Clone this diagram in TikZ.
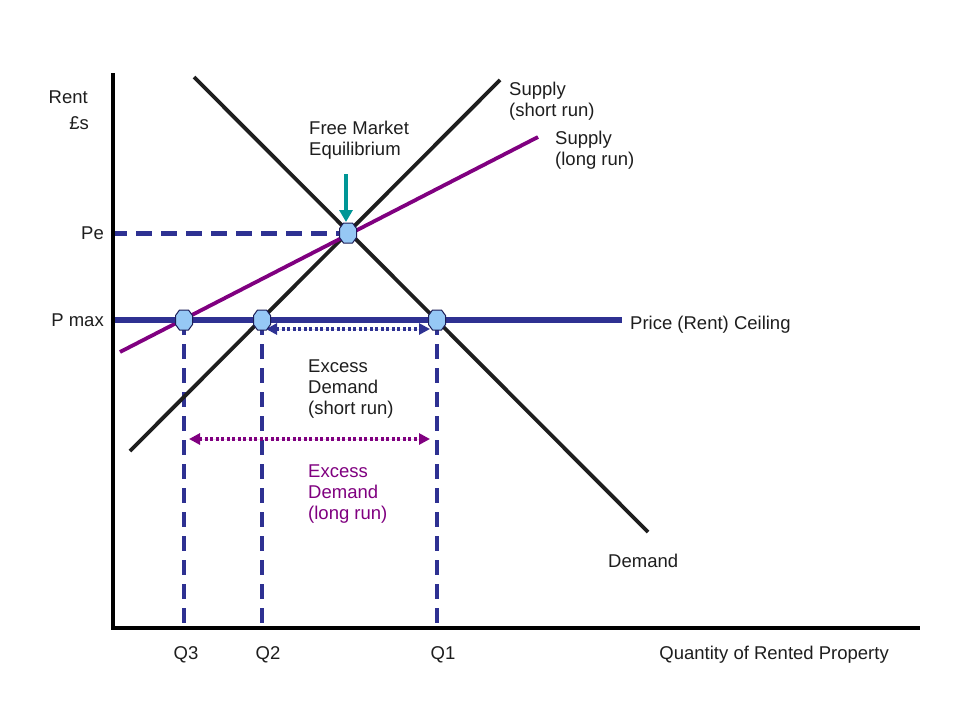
\documentclass[tikz,border=0pt]{standalone}
\usepackage{fontspec}
\setmainfont{Liberation Sans}
\usetikzlibrary{arrows.meta}
\definecolor{navy}{RGB}{46,49,146}
\definecolor{purp}{RGB}{128,0,128}
\definecolor{tealc}{RGB}{0,150,150}
\definecolor{mark}{RGB}{150,200,245}
\definecolor{ink}{RGB}{30,30,30}
\begin{document}
\begin{tikzpicture}[x=1pt,y=-1pt,
  lbl/.style={inner sep=0pt,font=\fontsize{18.5}{21}\selectfont,text=ink},
  curve/.style={line width=3.8pt,draw=ink},
  lrsupply/.style={line width=3.8pt,draw=purp},
  axisline/.style={line width=4.5pt,draw=black},
  ceiling/.style={line width=6.5pt,draw=navy},
  hdash/.style={line width=5pt,draw=navy,dash pattern=on 16pt off 9pt,dash phase=2pt},
  vdash/.style={line width=3.6pt,draw=navy,dash pattern=on 15pt off 9pt},
  dotarrow/.style={line width=3.5pt,dash pattern=on 3pt off 2.5pt,{Triangle[length=11pt,width=11pt]}-{Triangle[length=11pt,width=11pt]}},
  markstyle/.style={fill=mark,draw=navy!60!black,line width=1pt,line join=round},
  hexmark/.pic={\path[markstyle] (-4.5,-10) -- (4.5,-10) -- (8.5,-4.5) -- (8.5,4.5) -- (4.5,10) -- (-4.5,10) -- (-8.5,4.5) -- (-8.5,-4.5) -- cycle;}
]
\useasboundingbox (0,0) rectangle (960,720);
\fill[white] (0,0) rectangle (960,720);
% coordinates
\coordinate (origin) at (113,628);
\coordinate (ytop) at (113,73);
\coordinate (xend) at (920,628);
\coordinate (dA) at (194,77);
\coordinate (dB) at (648,532);
\coordinate (sA) at (130,451);
\coordinate (sB) at (500,80);
\coordinate (lA) at (120,352);
\coordinate (lB) at (538,137);
\coordinate (cA) at (111,320);
\coordinate (cB) at (622,320);
\coordinate (peA) at (113,233);
\coordinate (eq) at (348,233);
\coordinate (q3t) at (184,320);
\coordinate (q2t) at (262,320);
\coordinate (q1t) at (437,320);
\coordinate (q3b) at (184,628);
\coordinate (q2b) at (262,628);
\coordinate (q1b) at (437,628);
\coordinate (arT) at (346,174);
\coordinate (arB) at (346,222);
\coordinate (srA) at (266,329);
\coordinate (srB) at (430,329);
\coordinate (lrA) at (189,439);
\coordinate (lrB) at (430,439);
% dashed guide lines
\draw[vdash] (q3t) -- (q3b);
\draw[vdash] (q2t) -- (q2b);
\draw[vdash] (q1t) -- (q1b);
\draw[hdash] (peA) -- (eq);
% curves
\draw[curve] (dA) -- (dB);
\draw[curve] (sA) -- (sB);
\draw[lrsupply] (lA) -- (lB);
\draw[ceiling] (cA) -- (cB);
% axes
\draw[axisline] (ytop) -- (origin) -- (xend);
% arrows
\draw[line width=4pt,draw=tealc,-{Triangle[length=12pt,width=13pt]}] (arT) -- (arB);
\draw[dotarrow,draw=navy,fill=navy] (srA) -- (srB);
\draw[dotarrow,draw=purp,fill=purp] (lrA) -- (lrB);
% markers
\pic at (q3t) {hexmark};
\pic at (q2t) {hexmark};
\pic at (q1t) {hexmark};
\pic at (eq) {hexmark};
% labels
\node[lbl,anchor=east] (rent) at (88,97) {Rent};
\node[lbl,anchor=east] (pounds) at (89,123) {£s};
\node[lbl,anchor=east] (pe) at (104,233) {Pe};
\node[lbl,anchor=east] (pmax) at (104,320) {P max};
\node[lbl,anchor=west,align=left] (fme) at (309,140) {Free Market\\Equilibrium};
\node[lbl,anchor=west,align=left] (ssr) at (509,101) {Supply\\(short run)};
\node[lbl,anchor=west,align=left] (slr) at (555,150) {Supply\\(long run)};
\node[lbl,anchor=west] (ceil) at (630,325) {Price (Rent) Ceiling};
\node[lbl,anchor=west,align=left] (eds) at (308,389) {Excess\\Demand\\(short run)};
\node[lbl,anchor=west,align=left,text=purp] (edl) at (308,494) {Excess\\Demand\\(long run)};
\node[lbl,anchor=west] (dem) at (608,561) {Demand};
\node[lbl] (q3) at (186,655) {Q3};
\node[lbl] (q2) at (268,655) {Q2};
\node[lbl] (q1) at (443,655) {Q1};
\node[lbl,anchor=east] (qty) at (889,655) {Quantity of Rented Property};
\end{tikzpicture}
\end{document}
